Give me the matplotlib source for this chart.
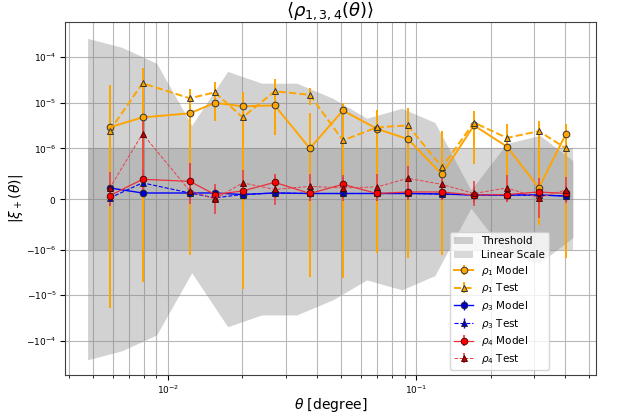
import matplotlib
matplotlib.use("Agg")
import matplotlib.pyplot as plt
from matplotlib.ticker import NullLocator

# angular bins [degree]
theta = [0.00583, 0.00792, 0.01228, 0.01549, 0.02006, 0.0270, 0.0374, 0.0508,
         0.0697, 0.0929, 0.1274, 0.1714, 0.2327, 0.313, 0.4027]

rho1_model = [2.9e-6, 4.8e-6, 5.9e-6, 1.0e-5, 8.4e-6, 8.8e-6, 1.0e-6, 6.8e-6,
              2.7e-6, 1.6e-6, 4.9e-7, 3.2e-6, 1.1e-6, 2.2e-7, 2.1e-6]
rho1_model_err = [2.15e-5, 1.0e-5, 7.2e-6, 6e-6, 9e-6, 6e-6, 4.9e-6, 2.9e-6,
                  3.9e-6, 3e-6, 1.8e-6, 2e-6, 1.1e-6, 7.3e-7, 1.4e-6]
rho1_test = [2.4e-6, 2.7e-5, 1.26e-5, 1.7e-5, 4.8e-6, 1.8e-5, 1.5e-5, 1.5e-6,
             2.9e-6, 3.2e-6, 6.3e-7, 3.7e-6, 1.7e-6, 2.4e-6, 1.0e-6]
rho1_test_err = [2.1e-5, 3.2e-5, 7.2e-6, 1.2e-5, 1.2e-5, 1.6e-5, 5.8e-6, 5.6e-6,
                 3.9e-6, 4.7e-6, 1.8e-6, 3e-6, 1.7e-6, 1.7e-6, 2.5e-6]

rho3_model = [2.2e-7, 1.2e-7, 1.2e-7, 1.2e-7, 9e-8, 1.2e-7, 1.1e-7, 1.1e-7,
              1.1e-7, 1.1e-7, 1.0e-7, 8e-8, 8e-8, 8e-8, 6e-8]
rho3_model_err = [5e-8] * 15
rho3_test = [2e-8, 3.2e-7, 1.2e-7, 2.5e-8, 9e-8, 1.2e-7, 1.1e-7, 1.1e-7,
             1.1e-7, 1.1e-7, 1.0e-7, 8e-8, 8e-8, 8e-8, 6e-8]
rho3_test_err = [5e-8] * 15

rho4_model = [6.5e-8, 3.9e-7, 3.5e-7, 9e-8, 1.6e-7, 3.3e-7, 1.1e-7, 2.9e-7,
              1.1e-7, 1.4e-7, 1.4e-7, 8e-8, 9e-8, 1.4e-7, 1.1e-7]
rho4_model_err = [2e-7, 2e-7, 3.7e-7, 1.5e-7, 1.5e-7, 1.5e-7, 1.5e-7, 1.5e-7,
                  1.5e-7, 1.5e-7, 1.5e-7, 1.5e-7, 1.5e-7, 1.5e-7, 1.5e-7]
rho4_test = [2.1e-7, 2.1e-6, 1.6e-7, 0.0, 3.2e-7, 1.9e-7, 2.5e-7, 2.2e-7,
             2.4e-7, 4.1e-7, 2.9e-7, 1.1e-7, 2.2e-7, 2.5e-8, 1.8e-7]
rho4_test_err = [3.2e-7, 2e-6, 2.5e-7, 3e-7, 2.5e-7, 3e-7, 2.5e-7, 2.5e-7,
                 2.5e-7, 2.5e-7, 2.5e-7, 2.5e-7, 2.5e-7, 4e-7, 2.5e-7]

# shaded envelopes
theta_fill = [0.004757, 0.006524, 0.009028, 0.01250, 0.01745, 0.02393, 0.03313,
              0.04627, 0.06342, 0.08781, 0.1193, 0.1666, 0.2327, 0.3162, 0.4297]
threshold = [2.6e-4, 1.66e-4, 7.4e-5, 3.2e-6, 4.9e-5, 2.7e-5, 2.7e-5, 1.26e-5,
             4.6e-6, 7.6e-6, 3.7e-6, 1.8e-7, 1.29e-6, 1.93e-6, 7.6e-7]
linthresh = 1e-6

fig = plt.figure(figsize=(6.17, 4.18), dpi=100)
ax = fig.add_axes([0.105, 0.103, 0.861, 0.844])

ax.fill_between(theta_fill, [-t for t in threshold], threshold,
                color="gray", alpha=0.35, lw=0, label="Threshold")
ax.fill_between(theta_fill, [-linthresh] * len(theta_fill), [linthresh] * len(theta_fill),
                color="gray", alpha=0.3, lw=0, label="Linear Scale")

ax.errorbar(theta, rho1_model, yerr=rho1_model_err, color="orange", marker="o", ms=4.8,
            mec="#333333", mew=0.7, lw=1.4, elinewidth=1.4, ls="-", label=r"$\rho_1$ Model")
ax.errorbar(theta, rho1_test, yerr=rho1_test_err, color="orange", marker="^", ms=4.5,
            mec="#333333", mew=0.7, lw=1.4, elinewidth=1.4, ls="--", label=r"$\rho_1$ Test")
ax.errorbar(theta, rho3_model, yerr=rho3_model_err, color="blue", marker="o", ms=4.8,
            mfc="#0000cc", mec="#222222", mew=0.6, lw=1.0, elinewidth=1.0, ls="-", label=r"$\rho_3$ Model")
ax.errorbar(theta, rho3_test, yerr=rho3_test_err, color="blue", marker="^", ms=4.5,
            mfc="#0000cc", mec="#222222", mew=0.6, lw=0.8, elinewidth=1.0, ls="--", label=r"$\rho_3$ Test")
ax.errorbar(theta, rho4_model, yerr=rho4_model_err, color="#e8303a", marker="o", ms=4.8,
            mfc="red", mec="#400000", mew=0.6, lw=0.9, elinewidth=1.2, ls="-", label=r"$\rho_4$ Model")
ax.errorbar(theta, rho4_test, yerr=rho4_test_err, color="#e8404a", marker="^", ms=4.5,
            mfc="#c00000", mec="#400000", mew=0.6, lw=0.7, elinewidth=1.2, ls="--", label=r"$\rho_4$ Test")

ax.set_xscale("log")
ax.set_yscale("symlog", linthresh=linthresh, linscale=1)
ax.yaxis.set_minor_locator(NullLocator())
ax.set_xlim(0.00385, 0.532)
ax.set_ylim(-5.6e-4, 5.9e-4)

ax.grid(True, which="major", color="#b8b8b8", lw=0.8)
ax.xaxis.grid(True, which="minor", color="#b8b8b8", lw=0.8)
ax.set_axisbelow(True)
ax.tick_params(labelsize=6.5, pad=2.5)
for s in ax.spines.values():
    s.set_color("#404040")

ax.set_title(r"$\langle\rho_{1,3,4}(\theta)\rangle$", fontsize=13, pad=1)
ax.set_xlabel(r"$\theta$ [degree]", fontsize=10, labelpad=0)
ax.set_ylabel(r"$|\xi_+(\theta)|$", fontsize=10, labelpad=1)

ax.legend(loc="lower right", bbox_to_anchor=(0.912, 0.014), borderaxespad=0,
          fontsize=7.5, handlelength=1.8, labelspacing=0.35, borderpad=0.4)

fig.savefig("out.png", dpi=100)
